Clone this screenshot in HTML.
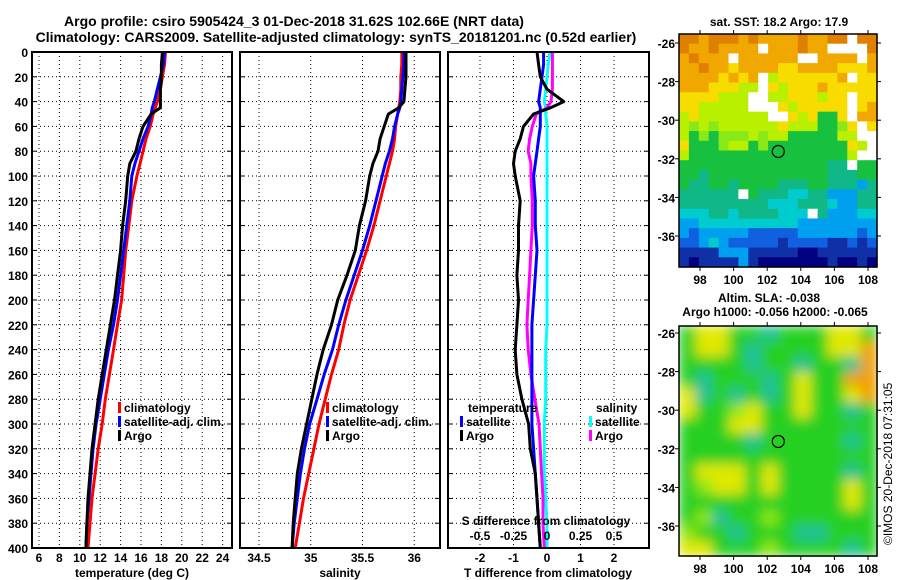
<!DOCTYPE html>
<html><head><meta charset="utf-8"><style>
body{margin:0;background:#fff}
svg{display:block;font-family:"Liberation Sans",sans-serif;font-weight:bold}
</style></head><body>
<svg id="c" width="900" height="580" xmlns="http://www.w3.org/2000/svg">
<text x="294" y="26" font-size="14" text-anchor="middle">Argo profile: csiro 5905424_3 01-Dec-2018 31.62S 102.66E (NRT data)</text>
<text x="336" y="42" font-size="14" text-anchor="middle">Climatology: CARS2009. Satellite-adjusted climatology: synTS_20181201.nc (0.52d earlier)</text>
<text x="779" y="26" font-size="12" text-anchor="middle">sat. SST: 18.2 Argo: 17.9</text>
<text x="769" y="302" font-size="12" text-anchor="middle">Altim. SLA: -0.038</text>
<text x="775" y="316" font-size="12" text-anchor="middle">Argo h1000: -0.056 h2000: -0.065</text>
<text transform="translate(892,545) rotate(-90)" font-size="12" font-weight="normal">©IMOS 20-Dec-2018 07:31:05</text>
<g id="layer"></g>
</svg>
<script>
const depths=[0,10,20,30,40,45,50,60,70,80,90,100,120,140,160,180,200,220,240,260,280,300,320,340,360,380,400];
const tClim=[18.4,18.3,18.1,17.9,17.6,17.4,17.2,16.9,16.5,16.2,15.9,15.6,15.1,14.8,14.5,14.3,14.1,13.7,13.3,12.9,12.5,12.2,11.8,11.5,11.2,11.0,10.8];
const tSat=[18.3,18.2,17.9,17.6,17.3,17.1,17.0,16.7,16.2,15.8,15.4,15.1,14.9,14.6,14.3,14.0,13.7,13.3,12.8,12.4,12.0,11.6,11.3,11.1,10.9,10.7,10.6];
const tArgo=[18.1,18.0,18.0,17.9,17.9,17.9,17.0,16.2,15.8,15.5,14.9,14.7,14.5,14.2,14.0,13.7,13.4,13.0,12.6,12.2,11.8,11.5,11.2,11.0,10.8,10.7,10.6];
const sClim=[35.88,35.88,35.87,35.87,35.86,35.85,35.84,35.82,35.81,35.79,35.76,35.73,35.67,35.61,35.54,35.46,35.38,35.32,35.27,35.20,35.14,35.08,35.03,34.98,34.93,34.89,34.85];
const sSat=[35.90,35.90,35.89,35.88,35.87,35.86,35.84,35.81,35.79,35.76,35.72,35.69,35.63,35.57,35.50,35.42,35.34,35.27,35.21,35.13,35.06,34.99,34.94,34.90,34.87,34.84,34.82];
const sArgo=[35.92,35.92,35.92,35.91,35.90,35.85,35.75,35.71,35.67,35.65,35.60,35.57,35.53,35.47,35.43,35.35,35.26,35.20,35.12,35.06,35.01,34.96,34.91,34.87,34.85,34.83,34.82];
const dTArgo=[-0.3,-0.25,-0.2,0.0,0.5,0.1,-0.4,-0.7,-0.8,-0.95,-1.0,-0.95,-0.8,-0.85,-0.85,-0.9,-0.85,-0.9,-0.95,-0.9,-0.75,-0.55,-0.5,-0.35,-0.3,-0.25,-0.2];
const dTSat=[-0.1,-0.1,-0.15,-0.2,-0.25,-0.2,-0.2,-0.2,-0.25,-0.3,-0.35,-0.4,-0.35,-0.35,-0.3,-0.35,-0.4,-0.45,-0.45,-0.45,-0.45,-0.45,-0.4,-0.35,-0.3,-0.25,-0.2];
const dSArgo=[0.04,0.04,0.04,0.04,0.03,0.0,-0.08,-0.11,-0.13,-0.14,-0.12,-0.12,-0.11,-0.11,-0.12,-0.13,-0.14,-0.15,-0.14,-0.12,-0.09,-0.06,-0.05,-0.04,-0.03,-0.03,-0.02];
const dSSat=[0.02,0.01,0.0,-0.01,-0.02,-0.01,-0.01,0,0,0,0,0,0,0,0,0,0,0,-0.01,-0.01,-0.01,-0.02,-0.02,-0.02,-0.01,0,0];
const depthTicks=[0,20,40,60,80,100,120,140,160,180,200,220,240,260,280,300,320,340,360,380,400];
const tTicks=[6,8,10,12,14,16,18,20,22,24];
const sTicks=[34.5,35,35.5,36];
const dTTicks=[-2,-1,0,1,2];
const dSTicks=[-0.5,-0.25,0,0.25,0.5];
const dSTickLabels=["-0.5","-0.25","0","0.25","0.5"];
const lonTicks=[98,100,102,104,106,108];
const latTicks=[-26,-28,-30,-32,-34,-36];
const argoLon=102.66, argoLat=-31.62;
const sstRows=["ooOoooOoOOOOoOOoowoo","oOOoOOOOwOOOoOOwwwwo","OoOOOwOOOOOOwwOOOOwO","OOoOOyOOOOyyOOOOyyyO","OOOOyOyOwlyyyyyyOwyy","OOOyyyllwylyyyOyyyyy","yyyylllwwllyyylyywyy","yylllllwwwylyyyyywyO","lylllllllwwylyGGywOO","lglgllllllylllGGgywy","lGgGggglgllGGGGGllww","yGGGgllGgGGGGGGGGylw","lGGGGGGGGGGGGGGGGlww","GGGGGGGGGGGGGGGttwGG","GGtGGGGGGGGGGGGtttGG","GttGGtGGGGtttGGtttbt","ttttttwGtttccttbbbtt","tttttttttccctttcbbtt","cccttcttttcccwtbbbcc","bbccccccccccbbbbbbbb","bBbbbbbBBBBBbbbbbbBb","BBbcbBBBBBnBBBBnnBnB","nnnnbbbnnnnnNNnnnnnn","nNnnnnbnNNNNNNNnNNnN"];
const slaRows=["gyyggtgggyyg","gyygtggggyyo","ggggtggtggto","gtgggtgyggoo","ytgtgtgyggyo","ygglyggyggtg","gggyyggggggg","ggggtgggggtg","gggggggggggg","gyyygyggggtg","glyygyggggyg","ggggggggggyg","gltgglgggggg","lggtgggttggg","yyggglggggtg"];
const sstPal={o:"#e08000",O:"#f0a800",y:"#f8dc00",l:"#b8f000",g:"#88e818",G:"#18c040",t:"#10b888",c:"#00ccd0",b:"#00a0f0",B:"#1060e0",n:"#1030a8",N:"#000080",w:"#ffffff"};
const slaPal={g:"#28d020",t:"#20c098",l:"#90e818",y:"#e0e800",o:"#f0a000"};

const NS="http://www.w3.org/2000/svg";
const L=document.getElementById('layer');
function mk(tag,at,parent){const e=document.createElementNS(NS,tag);for(const k in at)e.setAttribute(k,at[k]);(parent||L).appendChild(e);return e;}
const Y0=52,Y1=548;
const yD=d=>Y0+d*(Y1-Y0)/400;
const xT=t=>39+(t-6)*10.2;
const xS=s=>259+(s-34.5)*103.5;
const xDT=t=>547+t*33.5;
const xDS=s=>547+s*134;

function panel(x0,x1,name){
  const g=mk('g',{});
  
  
  return g;
}
function grid(g,x0,x1,xs){
  depthTicks.forEach(d=>{if(d>0&&d<400){const l=mk('line',{x1:x0,x2:x1,y1:yD(d),y2:yD(d),stroke:'#000','stroke-width':1,'stroke-dasharray':'1,3'},g);}
    mk('line',{x1:x0,x2:x0+5,y1:yD(d),y2:yD(d),stroke:'#000'},g);mk('line',{x1:x1-5,x2:x1,y1:yD(d),y2:yD(d),stroke:'#000'},g);});
  xs.forEach(x=>{const l=mk('line',{x1:x,x2:x,y1:Y0,y2:Y1,stroke:'#000','stroke-width':1,'stroke-dasharray':'1,3'},g);});
}
function line(g,xs,color,name){
  const pts=depths.map((d,i)=>xs[i].toFixed(1)+','+yD(d).toFixed(1)).join(' ');
  const p=mk('polyline',{points:pts,fill:'none',stroke:color,'stroke-width':3,'stroke-linejoin':'round'},g);
  
  
}
function frame(g,x0,x1){mk('rect',{x:x0,y:Y0,width:x1-x0,height:Y1-Y0,fill:'none',stroke:'#000','stroke-width':2},g);}
function txt(g,x,y,s,size,anchor,name){const t=mk('text',{x:x,y:y,'font-size':size,'text-anchor':anchor||'start'},g);t.textContent=s;return t;}
function leg(g,x,y,color,label,name){mk('rect',{x:x,y:y-10,width:3,height:11,fill:color},g);txt(g,x+6,y,label,12,'start',name);}

let g=panel(32,232,'temperature-panel');
grid(g,32,232,tTicks.map(xT));
line(g,tClim.map(xT),'#ff0000','temp-climatology-line');
line(g,tSat.map(xT),'#0000ff','temp-satellite-line');
line(g,tArgo.map(xT),'#000','temp-argo-line');
frame(g,32,232);
depthTicks.forEach(d=>txt(g,28,yD(d)+5,String(d),12,'end','depth-tick-label'));
tTicks.forEach(t=>txt(g,xT(t),562,String(t),12,'middle','temp-tick-label'));
txt(g,132,577,'temperature (deg C)',12,'middle','temp-axis-title');
leg(g,118,412,'#ff0000','climatology','legend-climatology');
leg(g,118,426,'#0000ff','satellite-adj. clim.','legend-satellite');
leg(g,118,440,'#000','Argo','legend-argo');

g=panel(240,440,'salinity-panel');
grid(g,240,440,sTicks.map(xS));
line(g,sClim.map(xS),'#ff0000','sal-climatology-line');
line(g,sSat.map(xS),'#0000ff','sal-satellite-line');
line(g,sArgo.map(xS),'#000','sal-argo-line');
frame(g,240,440);
sTicks.forEach(s=>txt(g,xS(s),562,String(s),12,'middle','sal-tick-label'));
txt(g,340,577,'salinity',12,'middle','sal-axis-title');
leg(g,326,412,'#ff0000','climatology','legend-climatology');
leg(g,326,426,'#0000ff','satellite-adj. clim.','legend-satellite');
leg(g,326,440,'#000','Argo','legend-argo');

g=panel(448,649,'difference-panel');
grid(g,448,649,dTTicks.map(xDT));
line(g,dSSat.map(xDS),'#00ffff','sdiff-satellite-line');
line(g,dSArgo.map(xDS),'#ff00ff','sdiff-argo-line');
line(g,dTSat.map(xDT),'#0000ff','tdiff-satellite-line');
line(g,dTArgo.map(xDT),'#000','tdiff-argo-line');
frame(g,448,649);
dTTicks.forEach(t=>txt(g,xDT(t),562,String(t),12,'middle','tdiff-tick-label'));
txt(g,548,577,'T difference from climatology',12,'middle','tdiff-axis-title');
txt(g,546,525,'S difference from climatology',12,'middle','sdiff-axis-title');
dSTicks.forEach((s,i)=>txt(g,xDS(s),540,dSTickLabels[i],12,'middle','sdiff-tick-label'));
txt(g,468,412,'temperature',12,'start','legend-temperature-header');
leg(g,460,426,'#0000ff','satellite','legend-tdiff-satellite');
leg(g,460,440,'#000','Argo','legend-tdiff-argo');
txt(g,596,412,'salinity',12,'start','legend-salinity-header');
leg(g,589,426,'#00ffff','satellite','legend-sdiff-satellite');
leg(g,589,440,'#ff00ff','Argo','legend-sdiff-argo');

function map(y0,y1,rows,pal,name,blur,latTop,latStep){
  const x0=679,x1=877;
  const gm=panel(x0,x1,name);
  const cellsG=mk('g',blur?{filter:'url(#bl)'}:{},gm);
  const nr=rows.length,nc=rows[0].length;
  const cw=(x1-x0)/nc,ch=(y1-y0)/nr;
  rows.forEach((r,i)=>{[...r].forEach((c,j)=>{
    const rc=mk('rect',{x:x0+j*cw,y:y0+i*ch,width:cw+0.6,height:ch+0.6,fill:pal[c]},cellsG);
    
    
  });});
  const xL=lon=>700+(lon-98)*16.8;
  const yL=lat=>latTop+(-26-lat)*latStep;
  mk('rect',{x:x0,y:y0,width:x1-x0,height:y1-y0,fill:'none',stroke:'#000','stroke-width':1.5},gm);
  lonTicks.forEach(l=>{mk('line',{x1:xL(l),x2:xL(l),y1:y0,y2:y0-4,stroke:'#000'},gm);mk('line',{x1:xL(l),x2:xL(l),y1:y1,y2:y1+4,stroke:'#000'},gm);txt(gm,xL(l),y1+17,String(l),12,'middle','lon-tick-label');});
  latTicks.forEach(l=>{mk('line',{x1:x0,x2:x0-4,y1:yL(l),y2:yL(l),stroke:'#000'},gm);mk('line',{x1:x1,x2:x1+4,y1:yL(l),y2:yL(l),stroke:'#000'},gm);txt(gm,675,yL(l)+5,String(l),12,'end','lat-tick-label');});
  const c=mk('circle',{cx:xL(argoLon),cy:yL(argoLat),r:6,fill:'none',stroke:'#000','stroke-width':1.2},gm);
  
  
}
const defs=mk('defs',{});
const f=mk('filter',{id:'bl',x:'0',y:'0',width:'1',height:'1'},defs);
mk('feGaussianBlur',{stdDeviation:6,edgeMode:'duplicate'},f);
map(34,267,sstRows,sstPal,'sst-map',false,43,19.3);
map(326,556,slaRows,slaPal,'sla-map',true,333,19.3);
</script>
</body></html>
